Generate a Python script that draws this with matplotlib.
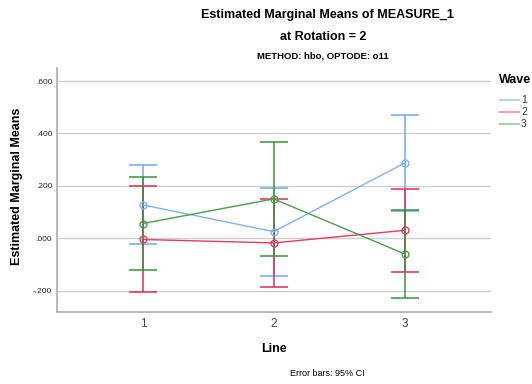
import matplotlib
matplotlib.use("Agg")
import matplotlib.pyplot as plt
from matplotlib.lines import Line2D

plt.rcParams['font.family'] = ['Liberation Sans', 'DejaVu Sans']

lines = [1, 2, 3]
waves = ["1", "2", "3"]
means = {
    "1": [0.127, 0.025, 0.287],
    "2": [-0.005, -0.018, 0.030],
    "3": [0.056, 0.150, -0.060],
}
upper = {
    "1": [0.278, 0.193, 0.470],
    "2": [0.198, 0.150, 0.189],
    "3": [0.235, 0.366, 0.109],
}
lower = {
    "1": [-0.023, -0.144, 0.104],
    "2": [-0.207, -0.185, -0.128],
    "3": [-0.123, -0.067, -0.230],
}
yticks = [-0.2, 0.0, 0.2, 0.4, 0.6]
ytick_labels = ["-.200", ".000", ".200", ".400", ".600"]

line_colors = {"1": "#7fb2f0", "2": "#e23c62", "3": "#4a9e4a"}
bar_colors = {"1": "#6fa8f0", "2": "#dc2f58", "3": "#3a933a"}
legend_colors = {"1": "#b8d2f2", "2": "#f0a0b4", "3": "#a8d0a8"}

W, H = 532, 384
fig = plt.figure(figsize=(W / 100, H / 100), dpi=100)
ax = fig.add_axes([56.5 / W, 1 - 311.5 / H, (491 - 56.5) / W, (311.5 - 68) / H])

for w in waves:
    m = means[w]
    lo = [mm - l for mm, l in zip(m, lower[w])]
    hi = [u - mm for mm, u in zip(m, upper[w])]
    ax.errorbar(lines, m, yerr=[lo, hi], fmt='none', ecolor=bar_colors[w],
                elinewidth=1.1, capsize=10.4, capthick=1.1, zorder=3)
    ax.plot(lines, m, color=line_colors[w], lw=1.0, zorder=4)
    ax.plot(lines, m, 'o', mfc='none', mec=line_colors[w], ms=5, mew=1.0, zorder=5)

ax.set_xlim(0.34, 3.66)
ax.set_ylim(-0.28, 0.65)
ax.set_xticks(lines)
ax.set_xticklabels([str(v) for v in lines], fontsize=8.5, color='#444444')
ax.set_yticks(yticks)
ax.set_yticklabels(ytick_labels, fontsize=6, color='#222222')
ax.tick_params(axis='both', length=0)
ax.tick_params(axis='x', pad=4.5)
ax.tick_params(axis='y', pad=3)
ax.grid(axis='y', color='#cfcfcf', lw=1.0, zorder=0)
ax.set_axisbelow(True)
for s in ['top', 'right']:
    ax.spines[s].set_visible(False)
for s in ['left', 'bottom']:
    ax.spines[s].set_color('#aaaaaa')
    ax.spines[s].set_linewidth(1.2)

fig.text(274 / W, 1 - 349 / H, "Line", ha='center', va='center',
         fontsize=9, fontweight='bold')
fig.text(17 / W, 1 - 186 / H, "Estimated Marginal Means", ha='center', va='center',
         rotation=90, fontsize=9, fontweight='bold')

fig.text(327 / W, 1 - 15 / H, "Estimated Marginal Means of MEASURE_1",
         ha='center', va='center', fontsize=9, fontweight='bold')
fig.text(323 / W, 1 - 37 / H, "at Rotation = 2",
         ha='center', va='center', fontsize=9, fontweight='bold')
fig.text(323 / W, 1 - 56 / H, "METHOD: hbo, OPTODE: o11",
         ha='center', va='center', fontsize=6.8, fontweight='bold')
fig.text(327 / W, 1 - 373 / H, "Error bars: 95% CI",
         ha='center', va='center', fontsize=6.5)

# legend
fig.text(499 / W, 1 - 80 / H, "Wave", ha='left', va='center',
         fontsize=9, fontweight='bold')
for i, w in enumerate(waves):
    yy = 1 - (100 + 12 * i) / H
    fig.add_artist(Line2D([500 / W, 519 / W], [yy, yy], color=legend_colors[w], lw=1.5))
    fig.text(521 / W, yy, w, ha='left', va='center', fontsize=7.5, color='#333333')

fig.savefig("out.png", dpi=100)
